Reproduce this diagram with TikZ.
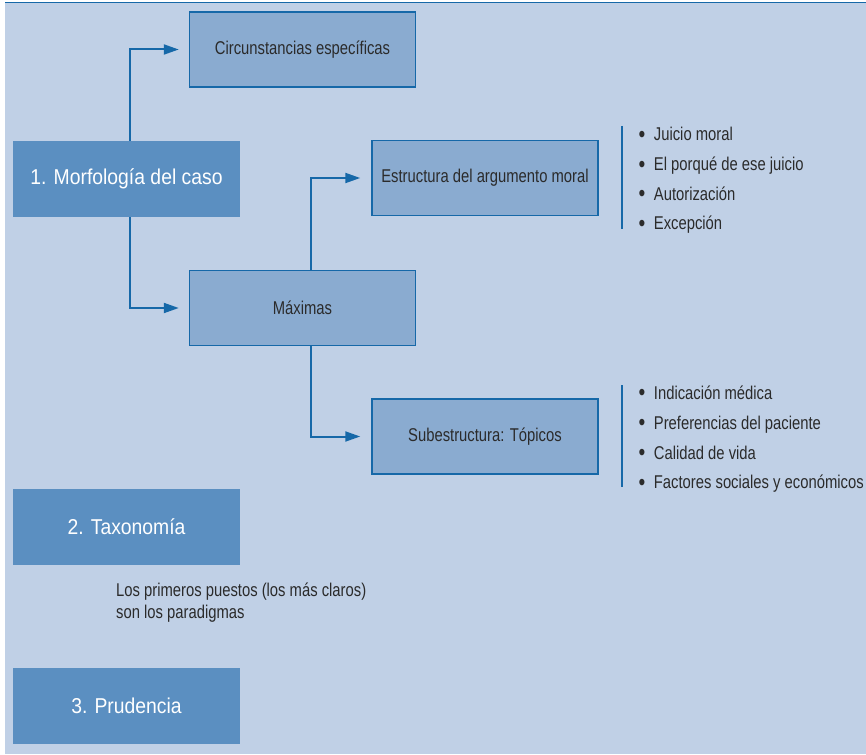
\documentclass[tikz,border=0pt]{standalone}
\usepackage{fontspec}
\setmainfont{Liberation Sans}[FakeStretch=0.9]
\newfontfamily\estrecha{Liberation Sans}[FakeStretch=0.8]
\usepackage{tikz}
\usetikzlibrary{arrows.meta}

\definecolor{fondo}{HTML}{C0D0E6}
\definecolor{azulcaja}{HTML}{5B8FC1}
\definecolor{azulclaro}{HTML}{8AABD0}
\definecolor{azulborde}{HTML}{1668A8}
\definecolor{texto}{HTML}{2B2B2B}

\tikzset{
	principal/.style={fill=azulcaja, text=white, minimum width=227pt, minimum height=76pt, inner sep=0pt, font=\fontsize{21.5}{25}\selectfont},
	secundario/.style={draw=azulborde, line width=1.5pt, fill=azulclaro, text=texto, minimum width=226pt, minimum height=75pt, inner sep=0pt, font=\estrecha\fontsize{18.5}{22}\selectfont},
	flecha/.style={draw=azulborde, line width=2pt, -{Triangle[length=15pt,width=10pt]}},
	item/.style={anchor=base west, text=texto, inner sep=0pt, font=\estrecha\fontsize{18.5}{22}\selectfont},
	barra/.style={draw=azulborde, line width=2pt}
}
\newcommand{\punto}{\raisebox{-1.8pt}{\fontsize{24}{22}\selectfont\textbullet}\hspace{8.5pt}}

\begin{document}
\begin{tikzpicture}[x=1pt,y=-1pt]
		\useasboundingbox (0,0) rectangle (866,754);
		\fill [fondo] (5,3) rectangle (866,754);
		\draw [azulborde, line width=1pt] (5,3) -- (866,3);
	
		\node [principal] (morf) at (126.5,179) {1. Morfología del caso};
		\node [principal] (tax) at (126.5,527) {2. Taxonomía};
		\node [principal] (prud) at (126.5,705.5) {3. Prudencia};
		
		\node [secundario] (circ) at (302.5,49.5) {Circunstancias específicas};
		\node [secundario] (max) at (302.5,308) {Máximas};
		\node [secundario] (estr) at (485,178) {Estructura del argumento moral};
		\node [secundario] (sub) at (485,436.5) {Subestructura: Tópicos};
		
		\node [item, anchor=west, align=left, font=\estrecha\fontsize{18.5}{22}\selectfont] (nota) at (116,603) {Los primeros puestos (los más claros)\\son los paradigmas};
		
		\node [item] (e1) at (638.5,141) {\punto Juicio moral};
		\node [item] (e2) at (638.5,170.5) {\punto El porqué de ese juicio};
		\node [item] (e3) at (638.5,200) {\punto Autorización};
		\node [item] (e4) at (638.5,229.5) {\punto Excepción};
		\node [item] (t1) at (638.5,399) {\punto Indicación médica};
		\node [item] (t2) at (638.5,429) {\punto Preferencias del paciente};
		\node [item] (t3) at (638.5,459) {\punto Calidad de vida};
		\node [item] (t4) at (638.5,488.5) {\punto Factores sociales y económicos};
		
		\coordinate (b1) at (622,126);
		\coordinate (b2) at (622,229);
		\coordinate (b3) at (622,385);
		\coordinate (b4) at (622,487);
		\draw [barra] (b1) -- (b2);
		\draw [barra] (b3) -- (b4);
		
		\draw [flecha] ([xshift=3.5pt]morf.north) |- ([xshift=-10pt]circ.west);
		\draw [flecha] ([xshift=3.5pt]morf.south) |- ([xshift=-10pt]max.west);
		\draw [flecha] ([xshift=8.5pt]max.north) |- ([xshift=-11pt]estr.west);
		\draw [flecha] ([xshift=8.5pt]max.south) |- ([xshift=-11pt]sub.west);
	\end{tikzpicture}
\end{document}
